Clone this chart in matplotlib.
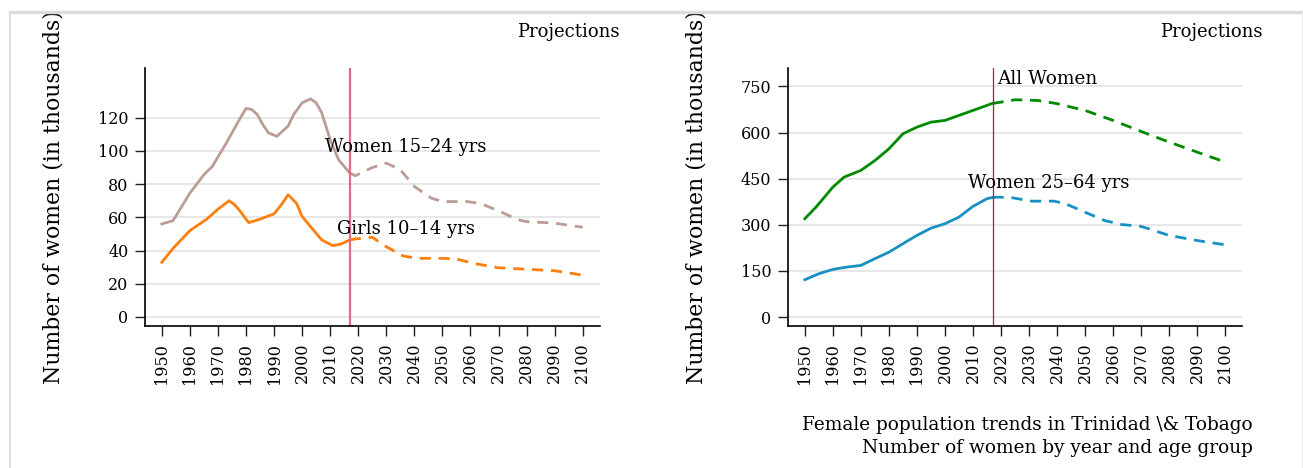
import matplotlib
matplotlib.use("Agg")
from matplotlib import pyplot as plt
from matplotlib.lines import Line2D

plt.rcParams['font.family'] = ['DejaVu Serif']

# Left panel: women 15-24 and girls 10-14 (thousands)
yrs_w15 = [1950, 1954, 1960, 1965, 1968, 1973, 1978, 1980, 1982, 1984, 1986, 1988, 1991, 1995, 1997, 2000, 2003, 2005, 2007, 2010, 2013, 2017]
w15 = [56.0, 58.0, 74.6, 85.7, 90.7, 104.8, 120.0, 125.6, 125.0, 122.0, 115.9, 110.9, 108.8, 115.0, 122.0, 129.0, 131.4, 129.0, 123.0, 106.8, 94.7, 86.7]
yrs_w15_p = [2017, 2019, 2025, 2030, 2035, 2040, 2046, 2050, 2059, 2064, 2070, 2077, 2080, 2090, 2100]
w15_p = [86.7, 85.1, 90.0, 92.7, 88.7, 78.6, 71.6, 69.5, 69.5, 68.1, 63.9, 58.5, 57.4, 56.5, 54.0]

yrs_g10 = [1950, 1954, 1960, 1966, 1970, 1974, 1976, 1978, 1980, 1981, 1985, 1990, 1993, 1995, 1998, 2000, 2003, 2005, 2007, 2011, 2014, 2017]
g10 = [32.9, 41.3, 52.0, 58.9, 64.9, 70.0, 67.5, 63.5, 58.9, 56.8, 58.9, 62.1, 68.5, 73.6, 68.5, 60.5, 54.4, 50.4, 46.4, 42.9, 44.0, 46.4]
yrs_g10_p = [2017, 2019, 2022, 2025, 2030, 2036, 2041, 2050, 2055, 2061, 2070, 2080, 2090, 2100]
g10_p = [46.4, 47.0, 47.4, 48.0, 42.3, 36.7, 35.3, 35.3, 34.9, 32.3, 29.6, 28.7, 27.8, 25.2]

# Right panel: all women and women 25-64 (thousands)
yrs_all = [1950, 1954, 1960, 1964, 1970, 1975, 1980, 1985, 1990, 1995, 2000, 2010, 2017]
all_w = [320, 357.6, 422.6, 455, 477, 509, 547, 596, 617.7, 634, 639.5, 672, 695]
yrs_all_p = [2017, 2020, 2025, 2033, 2040, 2050, 2060, 2070, 2080, 2090, 2100]
all_w_p = [695, 699, 706.7, 704.5, 694, 672, 639.5, 603.7, 569, 536.5, 504]

yrs_w25 = [1950, 1955, 1960, 1965, 1970, 1975, 1980, 1985, 1990, 1995, 2000, 2005, 2010, 2015, 2017]
w25 = [121.5, 141, 155, 162.6, 168, 190, 211, 238.6, 265.6, 289, 303.6, 325, 360, 385, 389]
yrs_w25_p = [2017, 2019, 2024, 2031, 2039, 2043, 2050, 2057, 2063, 2070, 2080, 2090, 2100]
w25_p = [389, 390, 388, 377, 377, 368.6, 341, 314, 301, 295, 265.6, 249, 235]

decades = list(range(1950, 2101, 10))
left_ticks = [0, 20, 40, 60, 80, 100, 120]
right_ticks = [0, 150, 300, 450, 600, 750]

dash = (0, (4, 2.8))

fig = plt.figure(figsize=(13.03, 4.68), dpi=100)

# light gray frame
fig.add_artist(Line2D([10/1303, 1], [1-12/468, 1-12/468], color='#dcdcdc', lw=2.5, transform=fig.transFigure))
fig.add_artist(Line2D([10/1303, 10/1303], [0, 1-12/468], color='#dcdcdc', lw=1.5, transform=fig.transFigure))
fig.add_artist(Line2D([1301.5/1303, 1301.5/1303], [0, 1-12/468], color='#eeeeee', lw=1, transform=fig.transFigure))

ax1 = fig.add_axes([145/1303, 1-326/468, 454.5/1303, 258/468])
ax2 = fig.add_axes([788/1303, 1-326/468, 454/1303, 258/468])


def style(ax, ticks, ylim):
    ax.set_xlim(1944, 2106)
    ax.set_ylim(*ylim)
    ax.set_xticks(decades)
    ax.set_xticklabels([str(d) for d in decades], rotation=90, fontsize=11.5)
    ax.set_yticks(ticks)
    ax.set_yticklabels([str(t) for t in ticks], fontsize=11.5)
    ax.tick_params(length=7, width=1, color='#222222', pad=5)
    for s in ['top', 'right']:
        ax.spines[s].set_visible(False)
    for s in ['left', 'bottom']:
        ax.spines[s].set_linewidth(1.2)
    ax.grid(axis='y', color='#e3e3e3', lw=1.2)
    ax.set_axisbelow(True)
    ax.set_ylabel('Number of women (in thousands)', fontsize=15.8, labelpad=24)


style(ax1, left_ticks, (-5.5, 150))
ax1.plot(yrs_w15, w15, color='#bc9c96', lw=2)
ax1.plot(yrs_w15_p, w15_p, color='#bc9c96', lw=2, ls=dash)
ax1.plot(yrs_g10, g10, color='#ff7f0e', lw=2)
ax1.plot(yrs_g10_p, g10_p, color='#ff7f0e', lw=2, ls=dash)
ax1.axvline(2017, color='#e06c8c', lw=1.6)
ax1.text(2037, 102.6, 'Women 15\u201324 yrs', ha='center', va='center', fontsize=13)
ax1.text(2037, 53, 'Girls 10\u201314 yrs', ha='center', va='center', fontsize=13)
ax1.text(620/1303, 1-32/468, 'Projections', transform=fig.transFigure, ha='right', va='center', fontsize=13)

style(ax2, right_ticks, (-29, 810))
ax2.plot(yrs_all, all_w, color='#008a00', lw=2)
ax2.plot(yrs_all_p, all_w_p, color='#008a00', lw=2, ls=dash)
ax2.plot(yrs_w25, w25, color='#1790c4', lw=2)
ax2.plot(yrs_w25_p, w25_p, color='#1790c4', lw=2, ls=dash)
ax2.axvline(2017, color='#b8173f', lw=0.9)
ax2.text(2018.7, 773, 'All Women', ha='left', va='center', fontsize=13.3)
ax2.text(2037, 434.6, 'Women 25\u201364 yrs', ha='center', va='center', fontsize=13)
ax2.text(1263/1303, 1-32/468, 'Projections', transform=fig.transFigure, ha='right', va='center', fontsize=13)

fig.text(1253/1303, 1-425/468, 'Female population trends in Trinidad \\& Tobago', ha='right', va='center', fontsize=13.3)
fig.text(1253/1303, 1-448/468, 'Number of women by year and age group', ha='right', va='center', fontsize=13.3)

fig.savefig('out.png', dpi=100)
